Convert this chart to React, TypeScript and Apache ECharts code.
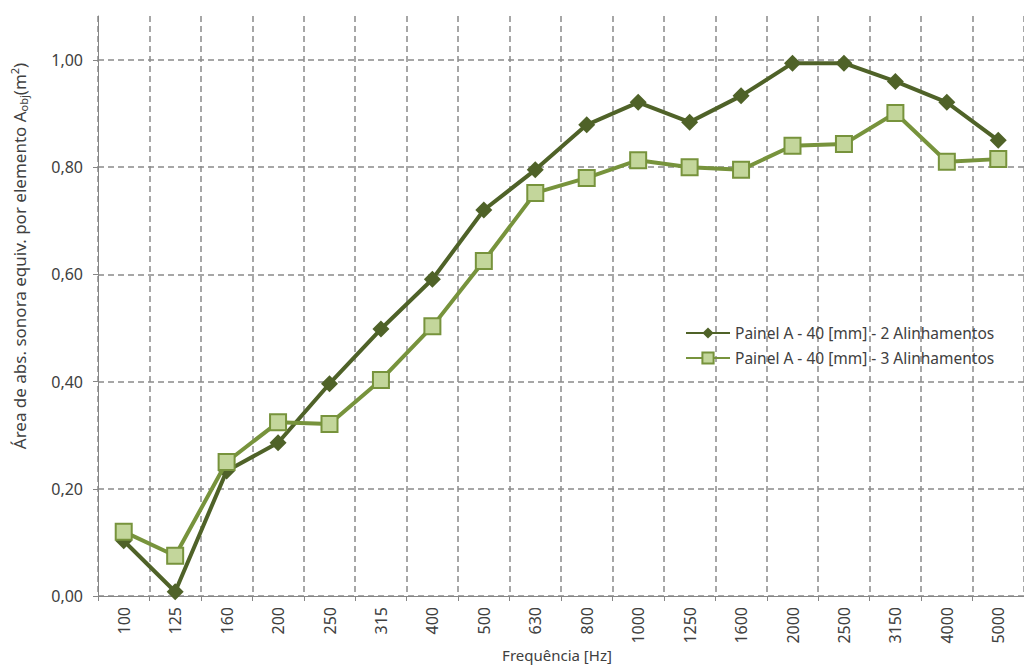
import React, { useEffect, useRef } from "react";
import * as echarts from "echarts";

const categories = ["100", "125", "160", "200", "250", "315", "400", "500", "630", "800", "1000", "1250", "1600", "2000", "2500", "3150", "4000", "5000"];
const series2Name = "Painel A - 40 [mm] - 2 Alinhamentos";
const series3Name = "Painel A - 40 [mm] - 3 Alinhamentos";
const series2 = [0.103, 0.008, 0.233, 0.286, 0.396, 0.498, 0.591, 0.72, 0.795, 0.879, 0.921, 0.884, 0.933, 0.994, 0.994, 0.960, 0.921, 0.850];
const series3 = [0.12, 0.075, 0.25, 0.324, 0.321, 0.403, 0.503, 0.625, 0.752, 0.78, 0.813, 0.80, 0.795, 0.84, 0.843, 0.901, 0.81, 0.815];

const FONT = "'Noto Sans', 'Open Sans', sans-serif";
const TEXT = "#404040";
const GRID = "#8a8a8a";

export default function App() {
  const ref = useRef<HTMLDivElement>(null);
  useEffect(() => {
    if (!ref.current) return;
    const chart = echarts.init(ref.current, undefined, { renderer: "svg" });
    chart.setOption({
      animation: false,
      backgroundColor: "#ffffff",
      textStyle: { fontFamily: FONT },
      grid: { left: 98, top: 16, width: 938, height: 580, containLabel: false },
      legend: {
        orient: "vertical",
        left: 680,
        top: 320,
        itemWidth: 44,
        itemHeight: 14,
        itemGap: 9,
        textStyle: { color: TEXT, fontSize: 15.5, fontFamily: FONT },
        data: [series2Name, series3Name],
      },
      xAxis: {
        type: "category",
        data: categories,
        boundaryGap: true,
        axisLine: { lineStyle: { color: "#868686", width: 1 } },
        axisTick: { show: true, length: 5, lineStyle: { color: "#868686" } },
        axisLabel: { rotate: 90, color: TEXT, fontSize: 16, margin: 11, interval: 0, fontFamily: FONT },
        splitLine: { show: true, interval: 0, lineStyle: { color: GRID, type: [6, 4], width: 1.5 } },
      },
      yAxis: {
        type: "value",
        min: 0,
        max: 1.082,
        interval: 0.2,
        axisLine: { show: true, lineStyle: { color: "#868686", width: 1 } },
        axisTick: { show: true, length: 5, lineStyle: { color: "#868686" } },
        axisLabel: {
          color: TEXT,
          fontSize: 16,
          margin: 15,
          fontFamily: FONT,
          showMaxLabel: false,
          formatter: (v: number) => {
            const r = v / 0.2;
            if (Math.abs(r - Math.round(r)) > 1e-6) return "";
            return v.toFixed(2).replace(".", ",");
          },
        },
        splitLine: { show: true, showMaxLine: false, lineStyle: { color: GRID, type: [6, 4], width: 1.5 } },
      },
      graphic: [
        {
          type: "text",
          x: 19,
          y: 256,
          rotation: Math.PI / 2,
          style: {
            text: "Área de abs. sonora equiv. por elemento A{sub|obj}(m{sup|2})",
            fill: TEXT,
            font: `17px ${FONT}`,
            align: "center",
            verticalAlign: "middle",
            rich: {
              sub: { fontSize: 11, fill: TEXT, padding: [9, 0, 0, 0], fontFamily: FONT },
              sup: { fontSize: 11, fill: TEXT, padding: [0, 0, 9, 0], fontFamily: FONT },
            },
          },
        },
        {
          type: "text",
          x: 557,
          y: 655,
          style: {
            text: "Frequência [Hz]",
            fill: TEXT,
            font: `15px ${FONT}`,
            align: "center",
            verticalAlign: "middle",
          },
        },
      ],
      series: [
        {
          name: series2Name,
          type: "line",
          data: series2,
          symbol: "diamond",
          symbolSize: 17,
          lineStyle: { color: "#4F6228", width: 4 },
          itemStyle: { color: "#4F6228" },
          z: 2,
        },
        {
          name: series3Name,
          type: "line",
          data: series3,
          symbol: "rect",
          symbolSize: 16,
          lineStyle: { color: "#77933C", width: 4 },
          itemStyle: { color: "#C3D69B", borderColor: "#77933C", borderWidth: 2 },
          z: 3,
        },
      ],
    });
    return () => chart.dispose();
  }, []);
  return <div ref={ref} style={{ position: "fixed", left: 0, top: 0, width: 1024, height: 666 }} />;
}
